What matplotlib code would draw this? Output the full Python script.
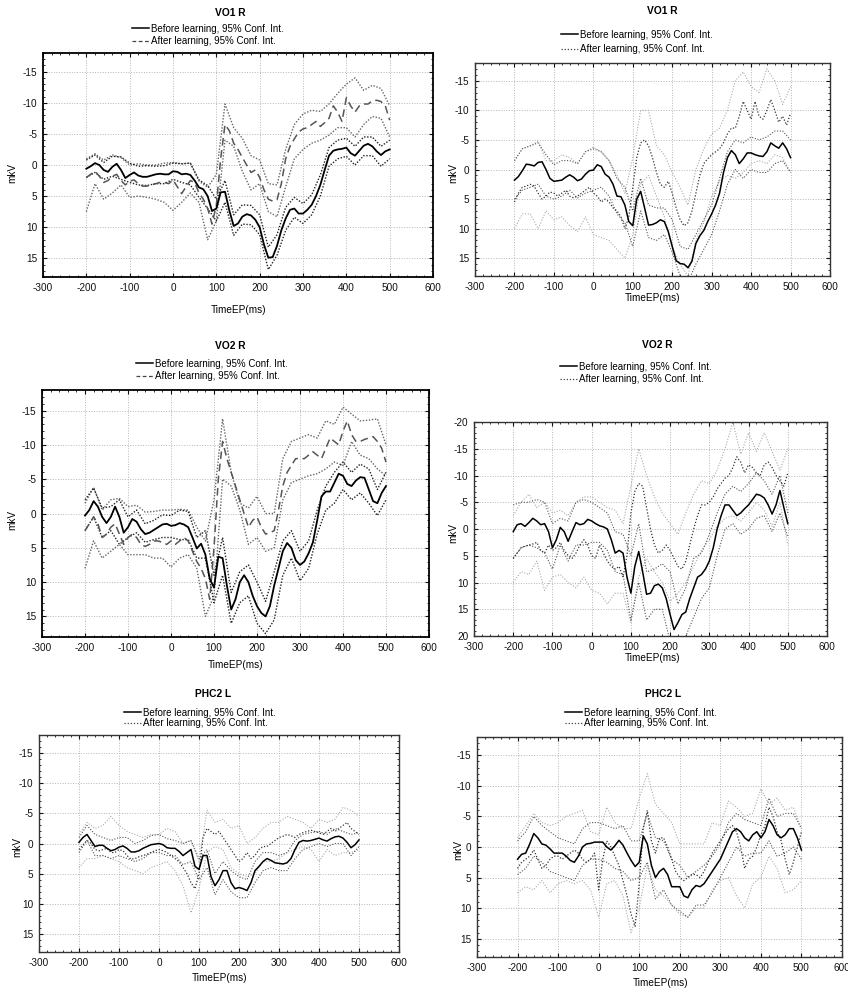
import numpy as np
import matplotlib
matplotlib.use('Agg')
import matplotlib.pyplot as plt
from matplotlib.ticker import AutoMinorLocator, MultipleLocator
from matplotlib.lines import Line2D

plt.rcParams['font.family'] = ['Liberation Sans', 'DejaVu Sans']
plt.rcParams['axes.unicode_minus'] = False
plt.rcParams['lines.solid_joinstyle'] = 'round'
plt.rcParams['lines.dash_joinstyle'] = 'round'

W, H = 848, 990

# time grids (ms)
t10 = np.arange(-200, 501, 10)
t20 = np.arange(-200, 501, 20)

# ---- VO1 R (left) ----
vo1r_a_bef = [0.6, 0.2, -0.3, 0.0, 0.8, 1.1, 0.3, -0.2, 0.8, 2.1,
              1.6, 1.2, 1.7, 1.9, 1.9, 1.7, 1.5, 1.4, 1.5, 1.5,
              1.0, 1.1, 1.5, 1.4, 1.6, 2.5, 3.6, 3.9, 5.0, 7.4,
              7.0, 4.4, 4.3, 7.3, 9.8, 9.4, 8.3, 7.9, 8.1, 8.8,
              10.0, 12.8, 14.9, 14.8, 13.0, 10.5, 8.6, 7.2, 7.0, 7.8,
              7.8, 7.2, 6.4, 5.0, 3.2, 0.8, -1.5, -2.3, -2.5, -2.6,
              -2.8, -1.9, -1.5, -2.3, -3.1, -3.4, -3.0, -2.2, -1.6, -2.2,
              -2.5]
vo1r_a_aft = [2.0, 1.5, 1.0, 1.8, 2.8, 2.5, 1.8, 1.5, 2.5, 3.2,
              2.6, 2.4, 3.0, 3.4, 3.4, 3.2, 3.0, 2.8, 2.8, 3.0,
              2.4, 3.5, 4.6, 3.5, 2.5, 2.8, 4.5, 5.5, 7.0, 9.5,
              6.5, -1.0, -6.5, -5.5, -3.5, -2.5, -1.2, 0.0, 1.2, 0.8,
              2.0, 4.0, 5.5, 5.8, 5.6, 3.0, -1.0, -3.0, -4.2, -5.3,
              -5.8, -6.0, -6.5, -7.0, -6.2, -6.8, -7.5, -9.5, -8.5, -7.0,
              -10.8, -9.5, -8.5, -9.5, -9.8, -9.8, -10.3, -10.4, -10.2, -9.5,
              -7.2]
vo1r_a_bef_hi = [-0.8, -1.6, -0.4, -1.4, -1.3, -0.3, 0.2, 0.1, 0.2, 0.1,
                 -0.3, -0.2, -0.3, 2.4, 3.3, 5.5, 2.5, 8.0, 6.4, 6.5,
                 8.0, 13.2, 11.2, 6.8, 5.2, 6.2, 4.8, 1.6, -2.8, -4.0,
                 -4.3, -3.0, -4.5, -4.5, -3.0, -4.0]
vo1r_a_bef_lo = [2.0, 1.2, 2.3, 1.8, 2.3, 2.8, 3.2, 3.3, 3.0, 3.0,
                 2.3, 2.8, 3.2, 5.2, 7.0, 9.0, 6.0, 11.3, 9.5, 9.6,
                 11.2, 16.8, 14.5, 10.5, 8.4, 9.4, 8.0, 5.0, 0.2, -1.0,
                 -1.4, 0.0, -1.5, -1.5, 0.2, -1.0]
vo1r_a_aft_hi = [-1.0, -1.8, -0.8, -1.6, -1.2, 0.0, -0.2, 0.0, 0.0, -0.3,
                 -0.4, -0.2, -0.3, 2.6, 3.6, 1.5, -9.8, -6.0, -4.3, -1.5,
                 -0.8, 3.0, 3.2, -2.5, -6.5, -8.2, -8.8, -8.6, -9.8, -11.5,
                 -13.0, -14.0, -12.0, -12.8, -12.3, -9.5]
vo1r_a_aft_lo = [7.5, 3.0, 5.5, 4.5, 3.2, 5.2, 5.0, 5.2, 5.5, 6.0,
                 7.3, 6.0, 4.5, 6.0, 12.0, 9.0, -4.0, -3.0, 1.0, 4.0,
                 3.0, 7.5, 8.3, 3.5, -1.0, -2.5, -3.5, -4.0, -4.8, -6.0,
                 -6.0, -4.5, -6.5, -7.8, -7.5, -4.5]

# ---- VO1 R (right) ----
vo1r_b_bef = [1.8, 1.2, 0.2, -0.9, -0.8, -0.6, -1.2, -1.3, 0.0, 1.5,
              2.0, 1.9, 1.8, 1.3, 0.9, 1.3, 1.9, 1.6, 0.8, 0.2,
              0.1, -0.8, -0.5, 0.8, 1.3, 2.5, 4.5, 4.6, 6.0, 8.8,
              9.5, 5.0, 3.7, 6.5, 9.4, 9.3, 9.0, 8.5, 8.8, 10.5,
              13.0, 15.4, 15.9, 16.0, 16.6, 15.5, 12.5, 11.2, 10.3, 8.8,
              7.5, 6.0, 4.0, 0.5, -2.0, -3.2, -2.5, -1.0, -1.8, -2.8,
              -2.8, -2.5, -2.3, -2.2, -3.0, -4.5, -4.0, -3.6, -4.5, -3.5,
              -2.0]
vo1r_b_aft = [5.5, 4.0, 3.0, 2.8, 2.5, 2.8, 4.0, 5.0, 4.5, 3.8,
              4.0, 4.5, 4.0, 3.5, 4.5, 4.8, 4.5, 4.0, 3.5, 3.0,
              4.0, 4.5, 5.5, 5.0, 5.5, 6.5, 7.0, 8.0, 10.0, 8.0,
              3.0, -2.0, -4.5, -5.0, -4.0, -2.0, 0.5, 2.5, 3.0, 2.0,
              4.0, 6.5, 8.5, 9.5, 9.0, 7.0, 4.0, 1.0, -1.0, -1.8,
              -2.5, -3.0, -3.5, -4.5, -6.0, -7.0, -7.0, -9.0, -11.5, -10.0,
              -8.5, -11.5, -9.0, -8.5, -10.0, -11.8, -10.0, -8.0, -9.0, -7.5,
              -9.5]
vo1r_b_bef_hi = [-1.5, -3.5, -4.0, -4.5, -2.5, -0.8, -1.5, -1.5, -1.0, -3.0,
                 -3.5, -3.0, -1.5, 1.5, 3.0, 7.0, 1.5, 6.0, 6.5, 6.5,
                 8.5, 13.0, 13.5, 11.0, 8.5, 6.0, 1.5, -3.0, -5.0, -4.5,
                 -5.5, -5.0, -5.5, -6.5, -6.5, -5.0]
vo1r_b_bef_lo = [5.0, 3.5, 3.0, 2.5, 4.5, 5.0, 4.5, 3.5, 4.8, 4.0,
                 3.5, 3.0, 4.5, 7.5, 9.0, 13.0, 7.0, 11.5, 12.0, 11.0,
                 14.0, 18.0, 19.0, 16.0, 13.5, 11.0, 7.0, 2.5, 0.0, 1.5,
                 0.0, 0.5, 0.5, -1.0, -1.5, 0.5]
vo1r_b_aft_hi = [-1.5, -3.5, -4.0, -4.8, -1.5, -1.5, -2.5, -2.0, -1.0, -3.0,
                 -3.8, -3.0, -1.5, 1.0, 4.0, -2.0, -10.0, -10.0, -4.0, -2.5,
                 0.5, 3.0, 6.0, 0.0, -3.5, -6.0, -7.0, -10.0, -15.0, -16.5,
                 -14.0, -13.0, -17.0, -15.0, -11.0, -14.0]
vo1r_b_aft_lo = [10.0, 7.5, 7.5, 10.0, 7.0, 8.5, 8.0, 9.5, 10.5, 8.0,
                 11.0, 11.5, 12.0, 13.5, 15.0, 11.0, 2.5, 1.0, 4.5, 8.0,
                 13.0, 16.0, 18.0, 12.0, 9.0, 4.5, 2.0, 1.0, 1.5, 0.5,
                 -1.0, -1.5, -1.0, -2.5, -2.0, 0.5]

# ---- VO2 R (left) ----
vo2r_a_bef = [0.3, -0.5, -1.8, -1.0, 0.5, 1.4, 0.5, -1.0, 0.5, 2.8,
              2.0, 0.8, 1.2, 2.3, 3.0, 2.8, 2.4, 2.0, 1.6, 1.5,
              1.8, 1.7, 1.4, 1.6, 2.0, 3.5, 5.1, 4.4, 6.0, 9.5,
              10.8, 6.3, 6.5, 10.5, 14.0, 12.5, 10.0, 9.0, 10.0, 12.0,
              13.5, 14.5, 15.0, 13.5, 10.5, 8.0, 5.5, 4.3, 5.0, 6.8,
              7.5, 7.0, 5.8, 4.2, 1.0, -2.5, -3.2, -3.2, -4.5, -5.8,
              -5.5, -4.3, -4.0, -4.8, -5.3, -5.2, -3.5, -1.8, -1.5, -3.0,
              -4.0]
vo2r_a_aft = [2.5, 1.5, 0.5, 1.5, 3.5, 3.0, 2.0, 1.5, 3.0, 4.5,
              3.5, 3.0, 3.5, 4.5, 4.8, 4.5, 4.0, 4.0, 4.2, 4.5,
              4.0, 4.5, 4.0, 3.5, 4.0, 5.5, 7.0, 8.0, 9.5, 12.5,
              5.0, -5.0, -10.5, -8.0, -6.0, -4.0, -2.0, 0.0, 2.0, 1.0,
              0.5, 2.0, 3.0, 2.8, 2.5, -0.5, -4.0, -6.0, -7.0, -8.0,
              -8.0, -8.0, -8.5, -9.0, -8.5, -8.0, -9.5, -11.0, -10.5, -10.0,
              -12.0, -13.5, -11.5, -10.5, -10.5, -10.8, -11.0, -11.2, -10.5, -9.5,
              -7.5]
vo2r_a_bef_hi = [-2.0, -3.7, -0.8, -1.0, -2.0, 0.5, -0.5, 1.5, 1.0, 0.2,
                 0.3, -0.5, -0.3, 3.5, 2.5, 9.0, 3.5, 11.5, 8.5, 7.5,
                 10.0, 12.8, 8.5, 4.0, 2.5, 5.5, 4.0, -0.5, -4.0, -6.0,
                 -7.5, -6.0, -7.2, -6.5, -3.5, -6.0]
vo2r_a_bef_lo = [2.5, 0.5, 3.5, 2.5, 4.5, 3.5, 2.8, 4.2, 3.8, 3.5,
                 3.5, 3.8, 3.8, 6.5, 6.5, 13.0, 9.0, 16.0, 13.0, 12.0,
                 16.0, 17.5, 15.5, 9.0, 6.5, 9.8, 8.0, 3.0, -0.5, -1.5,
                 -3.5, -2.0, -3.0, -1.5, 0.3, -2.0]
vo2r_a_aft_hi = [-1.5, -3.8, -0.5, -2.0, -2.2, -1.0, -1.2, -0.2, -0.3, -0.5,
                 -0.5, -0.6, -0.5, 2.0, 4.0, -2.0, -13.8, -6.0, -1.5, -0.8,
                 -2.5, 0.0, 0.0, -8.0, -10.5, -11.0, -11.5, -11.0, -13.5, -13.0,
                 -15.5, -14.5, -13.5, -13.6, -13.8, -10.0]
vo2r_a_aft_lo = [8.0, 4.0, 6.5, 5.5, 4.5, 6.0, 6.0, 6.0, 6.5, 6.5,
                 7.8, 6.5, 6.0, 8.0, 15.0, 12.0, -5.0, -4.0, -0.5, 4.5,
                 3.5, 5.5, 5.0, -2.0, -4.5, -5.0, -5.5, -5.8, -6.5, -7.5,
                 -7.0, -10.5, -8.5, -8.0, -6.5, -5.5]

# ---- VO2 R (right) ----
vo2r_b_bef = [0.5, -0.8, -1.0, -0.5, -1.2, -2.0, -1.5, -0.8, -1.0, 0.5,
              3.5, 2.0, -0.3, 0.5, 2.3, 0.5, -1.2, -0.8, -1.0, -1.8,
              -1.5, -1.0, -0.6, -0.4, 0.0, 2.0, 4.5, 4.0, 4.5, 9.0,
              12.0, 7.0, 4.2, 8.0, 12.2, 12.0, 10.6, 10.3, 11.0, 13.0,
              16.0, 18.8, 17.5, 16.0, 15.5, 13.0, 11.0, 9.0, 8.5, 7.5,
              6.0, 3.5, 0.0, -2.5, -4.5, -4.5, -3.5, -2.5, -3.0, -3.8,
              -4.5, -5.5, -6.5, -6.3, -5.8, -4.5, -2.8, -4.5, -7.2, -4.0,
              -1.0]
vo2r_b_aft = [5.5, 4.5, 3.5, 3.2, 3.0, 2.8, 2.5, 4.0, 4.5, 3.0,
              4.0, 3.5, 2.5, 4.0, 5.0, 5.5, 4.5, 3.0, 2.0, 3.0,
              5.0, 5.5, 3.0, 4.5, 6.0, 7.0, 7.5, 7.0, 9.0, 5.0,
              -3.0, -7.0, -8.5, -8.0, -4.0, 0.0, 3.0, 4.5, 4.0, 3.0,
              4.0, 5.5, 7.0, 7.5, 6.0, 3.0, 0.0, -2.5, -4.5, -4.5,
              -5.0, -6.0, -7.5, -8.5, -9.5, -10.0, -11.5, -13.5, -12.5, -10.5,
              -12.0, -11.5, -10.5, -10.0, -12.0, -12.5, -11.5, -10.0, -9.0, -8.0,
              -10.5]
vo2r_b_bef_hi = [-4.5, -5.0, -5.0, -5.5, -5.0, -1.0, -2.0, -1.5, -5.0, -5.5,
                 -5.0, -4.0, -3.0, 0.5, 1.0, 5.0, -1.0, 8.0, 7.5, 6.5,
                 8.0, 14.0, 11.0, 5.5, 4.5, 1.0, -3.0, -6.5, -8.0, -7.0,
                 -8.5, -10.5, -9.0, -6.5, -10.0, -3.0]
vo2r_b_bef_lo = [5.5, 3.5, 3.0, 3.5, 4.5, 7.5, 3.0, 6.0, 3.0, 3.0,
                 2.5, 2.5, 4.0, 8.0, 8.5, 17.0, 10.0, 17.0, 15.0, 15.0,
                 21.0, 22.0, 20.0, 16.5, 13.0, 11.0, 5.0, 0.0, -1.0, 1.0,
                 0.0, -2.0, -2.5, 0.5, -3.0, 1.5]
vo2r_b_aft_hi = [-2.5, -5.0, -6.5, -4.0, -5.0, -3.0, -3.5, -2.5, -5.0, -6.0,
                 -6.0, -5.0, -4.0, -3.5, -1.0, -8.0, -15.0, -10.0, -6.0, -3.0,
                 -1.0, 1.0, -3.0, -6.5, -9.0, -8.5, -11.0, -15.0, -20.0, -14.0,
                 -18.0, -14.5, -18.0, -14.5, -11.0, -15.0]
vo2r_b_aft_lo = [10.0, 8.0, 8.5, 6.0, 11.5, 9.0, 8.5, 10.0, 11.0, 9.0,
                 11.5, 12.0, 14.0, 12.0, 12.0, 17.5, 9.0, 5.5, 8.0, 10.0,
                 13.5, 12.0, 10.0, 7.0, 4.0, 2.0, -0.5, -2.0, -2.5, -1.5,
                 -3.0, -5.0, -3.5, -0.5, -5.0, 3.0]

# ---- PHC2 L (left) ----
phc2l_a_bef = [-0.2, -1.0, -1.5, -0.5, 0.5, 0.3, 0.3, 0.8, 1.2, 1.0,
               0.6, 0.4, 0.8, 1.4, 1.4, 1.2, 0.8, 0.5, 0.2, 0.1,
               0.0, 0.2, 0.7, 0.8, 0.8, 1.3, 2.0, 1.5, 1.0, 3.8,
               4.3, 2.0, 2.0, 5.5, 7.0, 6.0, 4.5, 4.5, 6.5, 7.5,
               7.3, 7.5, 7.8, 6.5, 4.5, 3.8, 3.0, 2.5, 2.8, 3.2,
               3.3, 3.4, 3.2, 2.5, 1.0, -0.2, -0.5, -0.4, -0.5, -0.7,
               -0.9, -0.6, -0.4, -0.8, -1.1, -1.2, -0.9, -0.2, 0.7, 0.2,
               -0.6]
phc2l_a_aft = [1.0, 0.2, -0.5, 0.0, 1.0, 1.2, 1.0, 0.8, 1.5, 1.5,
               1.0, 1.2, 2.0, 2.6, 2.5, 2.2, 2.0, 1.8, 1.5, 1.2,
               1.0, 1.2, 1.5, 2.0, 2.5, 3.0, 4.0, 5.0, 6.5, 7.5,
               5.0, -1.0, -2.5, -2.0, -1.5, -2.0, -1.0, 0.0, 1.0, 2.0,
               3.0, 2.5, 1.5, 2.5, 2.0, 1.0, 0.5, 0.5, 0.0, -0.5,
               -1.0, -1.2, -1.5, -1.3, -1.0, -1.5, -1.8, -2.0, -2.2, -2.0,
               -1.8, -1.5, -2.0, -2.5, -2.0, -2.5, -3.0, -3.5, -2.5, -2.0,
               -1.5]
phc2l_a_bef_hi = [-1.0, -3.0, -1.5, -1.0, -0.5, -1.0, -1.0, 0.0, -0.5, -1.3,
                  -1.5, -0.8, -0.5, 0.0, -0.5, 2.5, 1.0, 5.0, 3.0, 4.5,
                  5.5, 6.0, 3.0, 1.5, 1.5, 2.0, 1.5, -0.5, -1.5, -1.8,
                  -2.0, -1.5, -2.5, -2.0, -1.5, -1.8]
phc2l_a_bef_lo = [1.5, -0.5, 2.0, 2.0, 2.5, 2.0, 2.5, 3.0, 2.5, 1.5,
                  1.5, 2.0, 2.0, 3.5, 3.0, 6.0, 4.0, 8.5, 6.0, 8.0,
                  9.0, 9.0, 6.5, 4.5, 4.0, 4.5, 4.5, 2.5, 1.0, 0.5,
                  0.0, 0.5, 0.0, 0.0, 2.0, 0.5]
phc2l_a_aft_hi = [-1.5, -3.5, -2.5, -3.0, -4.5, -3.0, -2.0, -1.5, -1.0, -1.5,
                  -1.5, -2.5, -2.0, 0.0, -0.5, 3.0, -5.5, -3.5, -4.0, -2.5,
                  -3.0, 0.0, -1.0, -2.5, -3.5, -3.5, -4.5, -4.0, -3.5, -2.5,
                  -4.0, -3.5, -4.0, -6.0, -5.5, -4.5]
phc2l_a_aft_lo = [4.0, 2.5, 2.5, 2.0, 2.5, 3.0, 4.0, 4.5, 5.0, 4.0,
                  3.5, 3.0, 4.5, 7.0, 11.5, 7.5, 1.5, 0.5, 1.0, 4.0,
                  5.0, 5.5, 5.0, 3.0, 3.0, 2.5, 1.5, 1.0, 0.5, 1.0,
                  3.0, 1.0, 2.0, 1.5, 1.5, 1.0]

# ---- PHC2 L (right) ----
phc2l_b_bef = [2.0, 1.2, 1.0, -0.5, -2.2, -1.5, -0.5, -0.3, 0.3, 1.0,
               1.0, 1.0, 1.5, 2.2, 2.5, 1.5, 0.0, -0.5, -0.6, -0.8,
               -0.8, -0.8, 0.0, 0.5, -0.2, -1.1, -0.3, 1.0, 2.2, 3.2,
               2.5, -1.8, -0.5, 3.0, 5.0, 4.0, 3.5, 4.5, 6.5, 6.5,
               6.5, 8.0, 8.3, 7.0, 6.3, 6.5, 6.0, 5.0, 4.0, 3.0,
               2.0, 0.5, -1.0, -2.5, -3.0, -2.5, -1.5, -1.0, -2.0, -2.5,
               -1.5, -2.5, -4.5, -3.5, -2.0, -1.5, -2.0, -3.0, -3.0, -1.5,
               0.5]
phc2l_b_aft = [3.5, 2.5, 2.0, 1.5, 0.5, 2.0, 3.5, 3.0, 2.0, 1.5,
               1.5, 2.0, 1.5, 1.0, 0.5, 1.0, 2.0, 2.5, 2.0, 1.0,
               7.0, 2.0, -1.0, 0.0, 1.5, 3.0, 5.5, 8.0, 11.0, 13.0,
               6.0, -3.0, -6.0, -1.0, 1.0, -1.5, -1.5, 0.0, 2.0, 4.0,
               5.0, 5.5, 5.0, 4.5, 4.5, 5.0, 4.0, 2.5, 1.0, 0.0,
               -1.0, -2.0, -3.0, -3.5, -2.5, 0.0, 3.5, 2.0, 1.5, 0.0,
               -2.0, -3.5, -6.5, -5.0, -2.5, -1.0, 2.0, 4.5, 2.5, 0.0,
               -2.5]
phc2l_b_bef_hi = [-1.0, -2.5, -5.0, -3.5, -2.5, -1.5, -1.0, -0.5, -3.0, -4.0,
                  -4.0, -3.5, -3.0, -3.5, -1.0, -1.0, -5.5, -1.5, -1.0, 2.0,
                  3.0, 5.0, 4.0, 3.0, 1.5, -0.5, -4.0, -5.5, -4.5, -4.0,
                  -3.5, -8.0, -5.0, -5.5, -5.5, -3.0]
phc2l_b_bef_lo = [4.5, 3.5, 1.5, 2.5, 4.0, 4.5, 5.0, 5.5, 3.0, 2.0,
                  2.0, 2.5, 3.5, 4.0, 5.5, 5.0, 2.5, 8.5, 7.0, 9.5,
                  10.5, 11.5, 9.5, 9.5, 7.5, 5.0, 2.5, 0.0, 1.5, 1.0,
                  1.0, -1.0, 1.5, 1.0, 0.0, 2.0]
phc2l_b_aft_hi = [-1.5, -3.5, -5.5, -4.0, -3.5, -4.0, -5.0, -5.5, -6.0, -2.5,
                  -2.0, -6.5, -4.0, -3.0, -3.0, -8.0, -12.0, -7.0, -5.5, -4.0,
                  -0.5, -0.5, -0.5, -0.5, -4.0, -3.5, -7.5, -6.5, -5.0, -5.5,
                  -9.5, -7.0, -8.0, -6.0, -6.5, -3.0]
phc2l_b_aft_lo = [7.5, 6.5, 7.0, 5.5, 7.5, 6.0, 5.5, 6.0, 5.5, 7.0,
                  11.5, 6.0, 5.5, 8.0, 14.0, 10.0, 3.0, 7.0, 8.0, 9.5,
                  11.0, 11.5, 10.0, 10.0, 7.0, 5.5, 5.0, 8.0, 10.0, 6.0,
                  5.0, 1.5, 3.5, 7.5, 7.0, 5.5]

LEG_BEFORE = 'Before learning, 95% Conf. Int.'
LEG_AFTER = 'After learning, 95% Conf. Int.'


def rect(l, t, r, b):
    return [l / W, 1 - b / H, (r - l) / W, (b - t) / H]


def fxy(x, y):
    return (x / W, 1 - y / H)


def draw_panel(fig, p):
    ax = fig.add_axes(rect(*p['box']))
    heavy = p['heavy']
    dashed = p['dashed']

    if heavy:
        bef_ci = dict(color='#222222', lw=1.0, ls=(0, (1, 1.2)))
        aft_ci = dict(color='#666666', lw=1.0, ls=(0, (1, 1.2)))
        aft_m = dict(color='#555555', lw=1.1, ls=(0, (5, 3)))
        bef_m = dict(color='black', lw=1.3, ls='-')
    else:
        bef_ci = dict(color='#555555', lw=0.8, ls=(0, (1, 1.5)))
        aft_ci = dict(color='#aaaaaa', lw=0.8, ls=(0, (1, 1.5)))
        aft_m = dict(color='#333333', lw=0.9, ls=(0, (1, 1.5)))
        bef_m = dict(color='black', lw=1.1, ls='-')

    d = p['data']
    ax.plot(t20, d['aft_hi'], **aft_ci)
    ax.plot(t20, d['aft_lo'], **aft_ci)
    ax.plot(t20, d['bef_hi'], **bef_ci)
    ax.plot(t20, d['bef_lo'], **bef_ci)
    ax.plot(t10, d['aft'], **aft_m)
    ax.plot(t10, d['bef'], **bef_m)

    lim = p['ylim']
    ax.set_xlim(-300, 600)
    ax.set_ylim(lim, -lim)
    ax.xaxis.set_major_locator(MultipleLocator(100))
    ax.yaxis.set_major_locator(MultipleLocator(5))
    ax.xaxis.set_minor_locator(AutoMinorLocator(5))
    ax.yaxis.set_minor_locator(AutoMinorLocator(5))
    ax.tick_params(which='both', direction='in', top=True, right=True,
                   labelsize=7.2, colors='#111111', pad=4)
    ax.tick_params(which='major', length=3, width=0.8)
    ax.tick_params(which='minor', length=1.5, width=0.6)
    ax.grid(True, which='major', ls=':', color='#b5b5b5', lw=0.7)
    ax.set_axisbelow(True)
    for s in ax.spines.values():
        s.set_linewidth(1.3 if heavy else 1.0)
        s.set_color('black' if heavy else '#333333')

    fig.text(*fxy(*p['title']), p['name'], ha='center', va='center',
             fontsize=7.4, fontweight='bold')
    fig.text(*fxy(*p['xlabel']), 'TimeEP(ms)', ha='center', va='center',
             fontsize=7.2)
    fig.text(*fxy(*p['ylabel']), 'mkV', ha='center', va='center',
             fontsize=7.2, rotation=90)

    after_ls = (0, (3, 2)) if dashed else (0, (1, 1.5))
    handles = [Line2D([], [], color='black', lw=1.1),
               Line2D([], [], color='#444444', lw=0.9, ls=after_ls)]
    fig.legend(handles, [LEG_BEFORE, LEG_AFTER], loc='center',
               bbox_to_anchor=fxy(*p['legend']), frameon=False,
               fontsize=7.0, handlelength=1.7, handletextpad=0.25,
               labelspacing=p['lspace'], borderpad=0, borderaxespad=0)
    return ax


def pack(bef, aft, bef_hi, bef_lo, aft_hi, aft_lo):
    return dict(bef=bef, aft=aft, bef_hi=bef_hi, bef_lo=bef_lo,
                aft_hi=aft_hi, aft_lo=aft_lo)


panels = [
    dict(name='VO1 R', box=(43, 53, 433, 277), title=(230, 13), legend=(208, 35),
         lspace=0.3, xlabel=(238, 310), ylabel=(12, 173), ylim=18,
         heavy=True, dashed=True,
         data=pack(vo1r_a_bef, vo1r_a_aft, vo1r_a_bef_hi, vo1r_a_bef_lo,
                   vo1r_a_aft_hi, vo1r_a_aft_lo)),
    dict(name='VO1 R', box=(475, 63, 830, 276), title=(662, 11), legend=(637, 42),
         lspace=0.5, xlabel=(652, 298), ylabel=(453, 173), ylim=18,
         heavy=False, dashed=False,
         data=pack(vo1r_b_bef, vo1r_b_aft, vo1r_b_bef_hi, vo1r_b_bef_lo,
                   vo1r_b_aft_hi, vo1r_b_aft_lo)),
    dict(name='VO2 R', box=(42, 390, 429, 637), title=(230, 346), legend=(212, 370),
         lspace=0.3, xlabel=(235, 665), ylabel=(12, 520), ylim=18,
         heavy=True, dashed=True,
         data=pack(vo2r_a_bef, vo2r_a_aft, vo2r_a_bef_hi, vo2r_a_bef_lo,
                   vo2r_a_aft_hi, vo2r_a_aft_lo)),
    dict(name='VO2 R', box=(474, 422, 827, 636), title=(657, 345), legend=(636, 373),
         lspace=0.3, xlabel=(652, 658), ylabel=(453, 533), ylim=20,
         heavy=False, dashed=False,
         data=pack(vo2r_b_bef, vo2r_b_aft, vo2r_b_bef_hi, vo2r_b_bef_lo,
                   vo2r_b_aft_hi, vo2r_b_aft_lo)),
    dict(name='PHC2 L', box=(39, 735, 399, 952), title=(213, 694), legend=(200, 718),
         lspace=0.08, xlabel=(219, 978), ylabel=(17, 847), ylim=18,
         heavy=False, dashed=False,
         data=pack(phc2l_a_bef, phc2l_a_aft, phc2l_a_bef_hi, phc2l_a_bef_lo,
                   phc2l_a_aft_hi, phc2l_a_aft_lo)),
    dict(name='PHC2 L', box=(477, 737, 842, 957), title=(663, 694), legend=(641, 718),
         lspace=0.08, xlabel=(660, 983), ylabel=(458, 850), ylim=18,
         heavy=False, dashed=False,
         data=pack(phc2l_b_bef, phc2l_b_aft, phc2l_b_bef_hi, phc2l_b_bef_lo,
                   phc2l_b_aft_hi, phc2l_b_aft_lo)),
]

fig = plt.figure(figsize=(W / 100, H / 100), dpi=100)
for p in panels:
    draw_panel(fig, p)

fig.savefig('out.png', dpi=100)
